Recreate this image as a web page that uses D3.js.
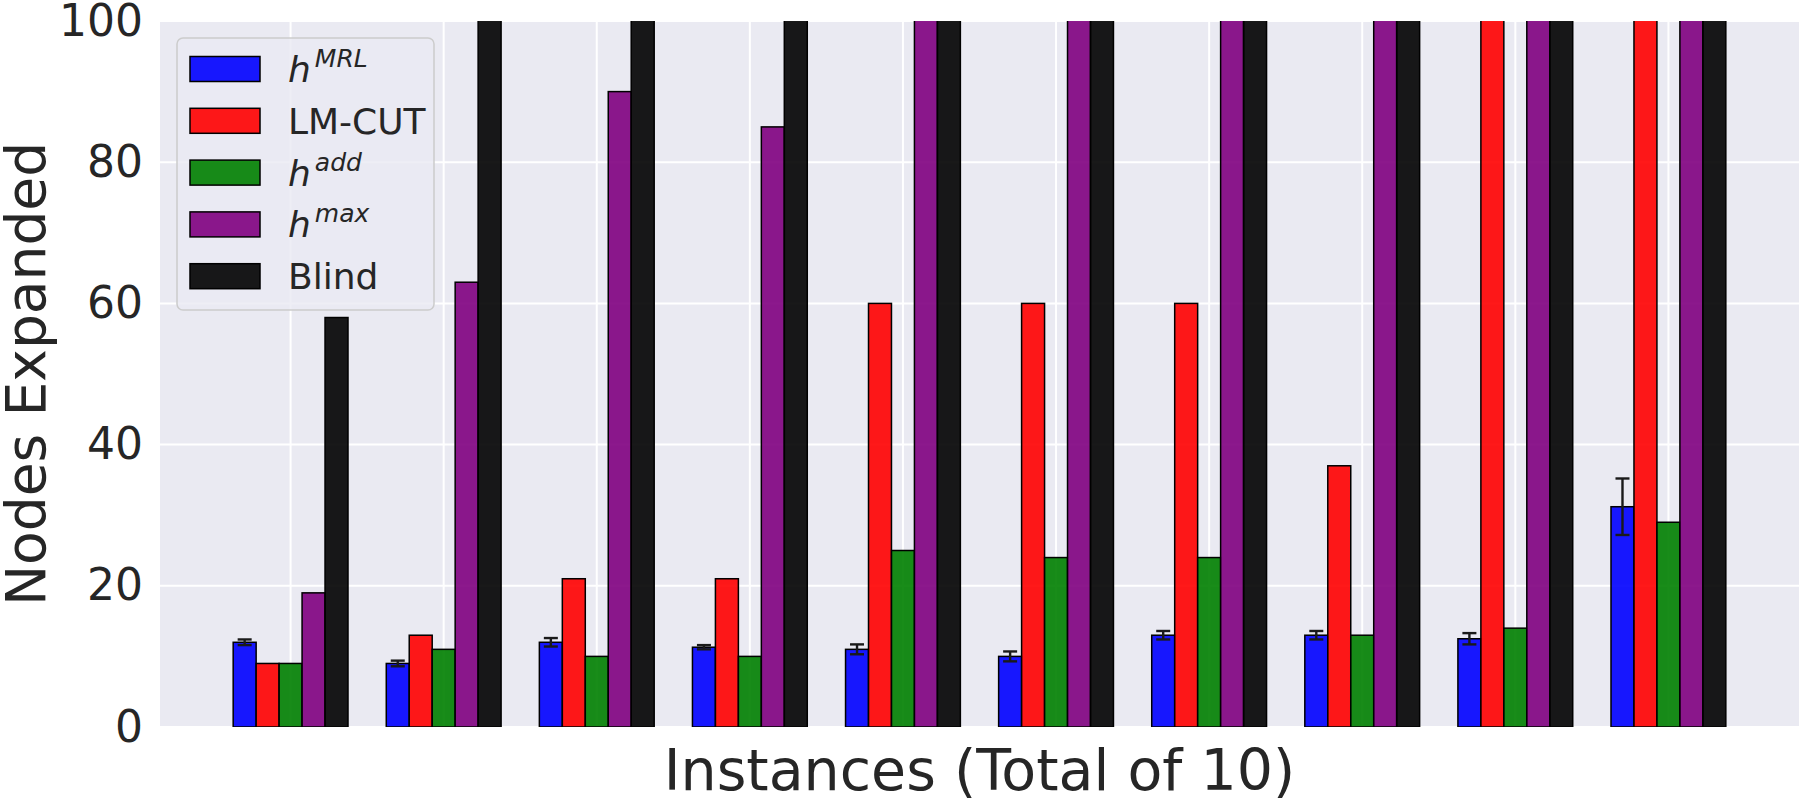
<!DOCTYPE html>
<html>
<head>
<meta charset="utf-8">
<script src="https://cdn.jsdelivr.net/npm/d3@7/dist/d3.min.js"></script>
<style>
  body { margin: 0; background: #fff; }
  svg text { font-family: "DejaVu Sans", sans-serif; fill: #262626; }
</style>
</head>
<body>
<div class="barchart"></div>
<script>
// instances 1..10
let instances = [1, 2, 3, 4, 5, 6, 7, 8, 9, 10];

// heuristics, in legend order
let series = ["MRL", "LMCUT", "add", "max", "blind"];
let colors = ["#0000ff", "#ff0000", "#008000", "#800080", "#000000"];

// values (bars that run past 100 are clipped, so those are rough guesses)
let mrl      = [12, 9, 12, 11.3, 11, 10, 13, 13, 12.5, 31.2];
let mrlErr   = [0.4, 0.4, 0.6, 0.3, 0.7, 0.7, 0.6, 0.6, 0.8, 4];
let lmcut    = [9, 13, 21, 21, 60, 60, 60, 37, 130, 160];
let hadd     = [9, 11, 10, 10, 25, 24, 24, 13, 14, 29];
let hmax     = [19, 63, 90, 85, 140, 150, 160, 170, 180, 200];
let blind    = [58, 120, 150, 140, 200, 210, 220, 230, 240, 260];

let yTicks = [0, 20, 40, 60, 80, 100];

let allValues = [mrl, lmcut, hadd, hmax, blind];

let margin = {top: 21, right: 1, bottom: 73, left: 160};
let width = 1800 - margin.left - margin.right,
    height = 800 - margin.top - margin.bottom;

let barWidth = 0.15;

let svg = d3.select(".barchart").append("svg")
    .attr("width", 1800)
    .attr("height", 800)
    .append("g")
    .attr("transform", "translate(" + margin.left + "," + margin.top + ")");

const xScale = d3.scaleLinear()
    .domain([-0.853, instances.length - 1 + 0.853])
    .range([0, width]);

const yScale = d3.scaleLinear()
    .domain([0, 100])
    .range([height, 0]);

// background
svg.append("rect")
    .attr("width", width)
    .attr("height", height)
    .attr("fill", "#eaeaf2");

svg.append("defs").append("clipPath")
    .attr("id", "plotclip")
    .append("rect")
    .attr("width", width)
    .attr("height", height);

// grid
svg.selectAll(".hgrid")
    .data(yTicks)
    .enter().append("line")
    .attr("x1", 0).attr("x2", width)
    .attr("y1", d => yScale(d)).attr("y2", d => yScale(d))
    .attr("stroke", "#fff").attr("stroke-width", 2);

svg.selectAll(".vgrid")
    .data(instances)
    .enter().append("line")
    .attr("x1", (d, i) => xScale(i)).attr("x2", (d, i) => xScale(i))
    .attr("y1", 0).attr("y2", height)
    .attr("stroke", "#fff").attr("stroke-width", 2);

// bars
let plot = svg.append("g").attr("clip-path", "url(#plotclip)");

allValues.forEach(function(vals, s) {
    let offset = (s - 2) * barWidth;
    plot.selectAll(".bar" + s)
        .data(vals)
        .enter().append("rect")
        .attr("x", (d, i) => xScale(i + offset - barWidth / 2))
        .attr("width", xScale(barWidth) - xScale(0))
        .attr("y", d => yScale(d))
        .attr("height", d => yScale(0) - yScale(d))
        .attr("fill", colors[s])
        .attr("fill-opacity", 0.9)
        .attr("stroke", "#000")
        .attr("stroke-width", 1.5);
});

// error bars on h^MRL
let cap = 7;
let errG = plot.selectAll(".err")
    .data(mrl)
    .enter().append("g")
    .attr("stroke", "#1a1a1a")
    .attr("stroke-width", 2.4);

errG.append("line")
    .attr("x1", (d, i) => xScale(i - 2 * barWidth)).attr("x2", (d, i) => xScale(i - 2 * barWidth))
    .attr("y1", (d, i) => yScale(d - mrlErr[i])).attr("y2", (d, i) => yScale(d + mrlErr[i]));
errG.append("line")
    .attr("x1", (d, i) => xScale(i - 2 * barWidth) - cap).attr("x2", (d, i) => xScale(i - 2 * barWidth) + cap)
    .attr("y1", (d, i) => yScale(d - mrlErr[i])).attr("y2", (d, i) => yScale(d - mrlErr[i]));
errG.append("line")
    .attr("x1", (d, i) => xScale(i - 2 * barWidth) - cap).attr("x2", (d, i) => xScale(i - 2 * barWidth) + cap)
    .attr("y1", (d, i) => yScale(d + mrlErr[i])).attr("y2", (d, i) => yScale(d + mrlErr[i]));

// y axis
let yAxis = svg.append("g")
    .call(d3.axisLeft(yScale).tickValues(yTicks).tickSize(0).tickPadding(17));
yAxis.select(".domain").remove();
yAxis.selectAll("text")
    .style("font-family", "DejaVu Sans, sans-serif")
    .style("font-size", "44px")
    .attr("fill", "#262626");

// axis labels
svg.append("text")
    .attr("x", width / 2)
    .attr("y", height + 63)
    .attr("text-anchor", "middle")
    .style("font-size", "57px")
    .text("Instances (Total of 10)");

svg.append("text")
    .attr("transform", "translate(" + (-115) + "," + (height / 2) + ") rotate(-90)")
    .attr("text-anchor", "middle")
    .style("font-size", "55px")
    .text("Nodes Expanded");

// legend
let legendLabels = [
    {base: "h", sup: "MRL"},
    {base: "LM-CUT", sup: null},
    {base: "h", sup: "add"},
    {base: "h", sup: "max"},
    {base: "Blind", sup: null}
];

let legend = svg.append("g")
    .attr("transform", "translate(" + (177 - margin.left) + "," + (38 - margin.top) + ")");

legend.append("rect")
    .attr("width", 257)
    .attr("height", 272)
    .attr("rx", 6)
    .attr("fill", "#eaeaf2")
    .attr("fill-opacity", 0.8)
    .attr("stroke", "#cccccc")
    .attr("stroke-width", 1.5);

let rows = legend.selectAll(".row")
    .data(legendLabels)
    .enter().append("g")
    .attr("transform", (d, i) => "translate(0," + (31 + i * 51.8) + ")");

rows.append("rect")
    .attr("x", 13)
    .attr("y", (d) => -12.5)
    .attr("width", 70)
    .attr("height", 25)
    .attr("fill", (d, i) => colors[i])
    .attr("fill-opacity", 0.9)
    .attr("stroke", "#000")
    .attr("stroke-width", 1.5);

let labels = rows.append("text")
    .attr("x", 111)
    .attr("y", 13)
    .style("font-size", "36px");

labels.append("tspan")
    .style("font-style", d => d.sup ? "italic" : "normal")
    .text(d => d.base);

labels.filter(d => d.sup).append("tspan")
    .attr("dx", 4)
    .attr("dy", -15)
    .style("font-style", "italic")
    .style("font-size", "25px")
    .text(d => d.sup);
</script>
</body>
</html>
